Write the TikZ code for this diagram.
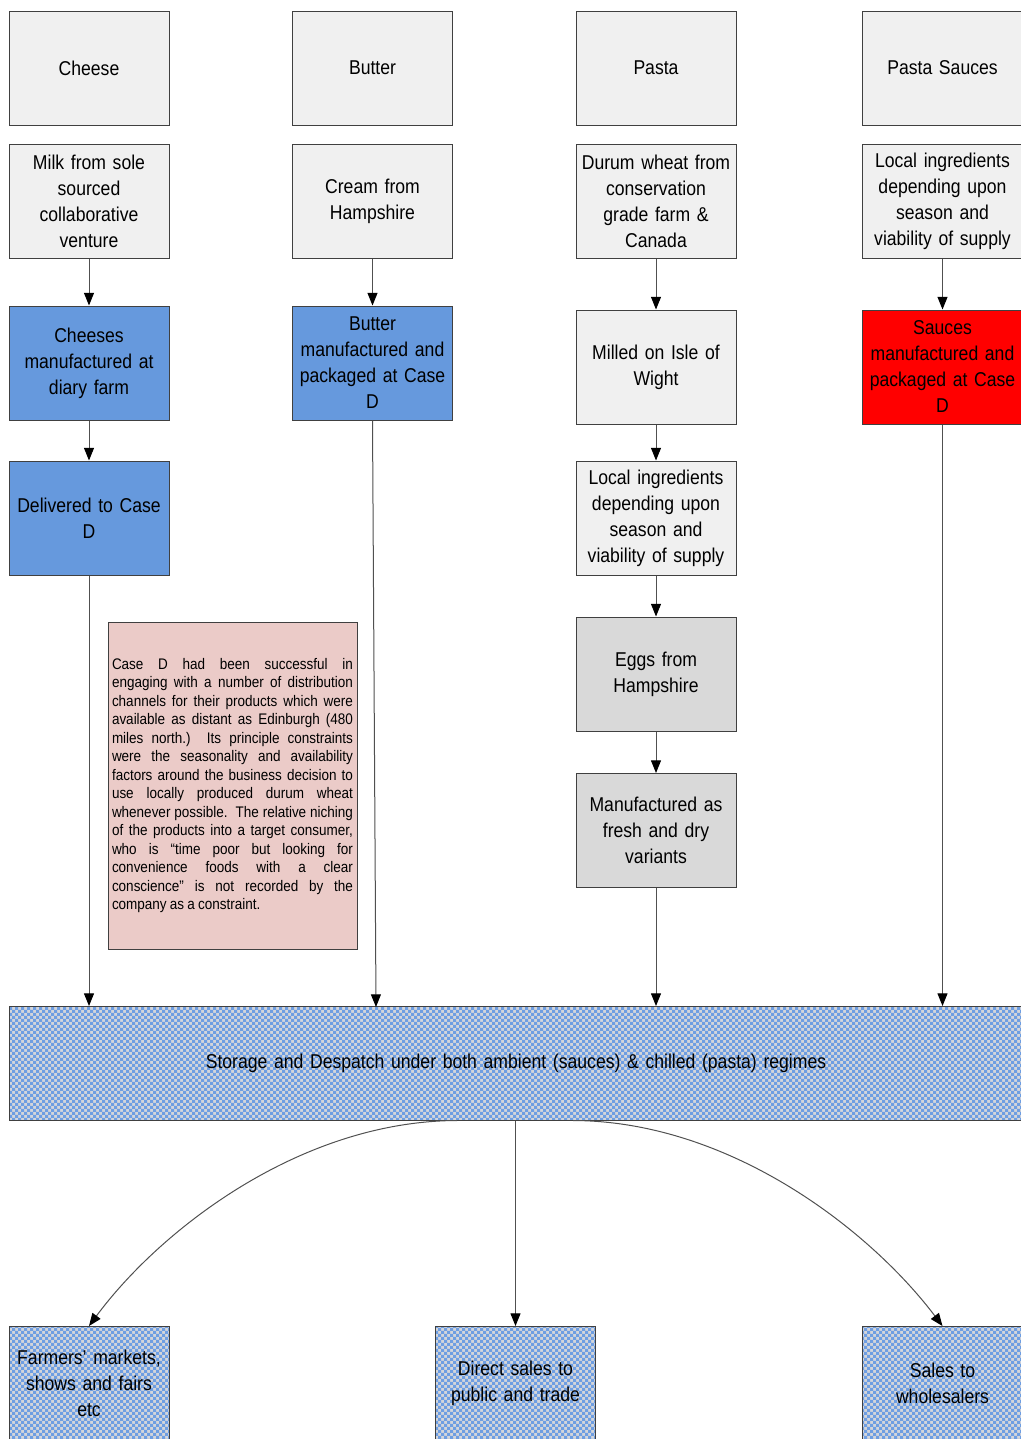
\documentclass[tikz,border=0pt]{standalone}
\usepackage{fontspec}
\setmainfont[FakeStretch=0.88,WordSpace=0.85]{Liberation Sans}
\usetikzlibrary{patterns,arrows.meta}
\definecolor{boxgrey}{HTML}{F0F0F0}
\definecolor{boxgreyd}{HTML}{D9D9D9}
\definecolor{boxblue}{HTML}{6699DD}
\definecolor{boxred}{HTML}{FF0000}
\definecolor{boxpink}{HTML}{EBCBC8}
\definecolor{chkblue}{HTML}{6E9EE2}
\definecolor{chkgrey}{HTML}{D4D6DA}
\definecolor{edgecol}{HTML}{404040}
\definecolor{conncol}{HTML}{505050}
\pgfdeclarepatternformonly{finechecks}{\pgfqpoint{-0.05pt}{-0.05pt}}{\pgfqpoint{4.55pt}{4.55pt}}{\pgfqpoint{4.5pt}{4.5pt}}{%
  \pgfpathrectangle{\pgfqpoint{0pt}{0pt}}{\pgfqpoint{2.3pt}{2.3pt}}%
  \pgfpathrectangle{\pgfqpoint{2.25pt}{2.25pt}}{\pgfqpoint{2.3pt}{2.3pt}}%
  \pgfusepath{fill}}
\tikzset{
 basebox/.style={draw=edgecol, line width=0.75pt, minimum width=120pt, minimum height=85.5pt,
   text width=118pt, align=center, inner sep=0pt, font=\fontsize{15}{19.5}\selectfont},
 greybox/.style={basebox, fill=boxgrey},
 darkbox/.style={basebox, fill=boxgreyd},
 bluebox/.style={basebox, fill=boxblue},
 redbox/.style={basebox, fill=boxred},
 chkbox/.style={basebox, preaction={fill=chkgrey}, pattern=finechecks, pattern color=chkblue},
 notebox/.style={draw=edgecol, line width=0.75pt, fill=boxpink, minimum width=186.75pt,
   minimum height=245.25pt, text width=180.75pt, align=justify, inner sep=0pt,
   font=\fontsize{11.5}{13.9}\selectfont},
 arr/.style={draw=conncol, line width=0.75pt, -{Triangle[length=9.5pt,width=7.5pt,black]}}
}
\begin{document}
\begin{tikzpicture}[x=0.75pt,y=-0.75pt]
\useasboundingbox (0,0) rectangle (1021,1439);
% row 1
\node[greybox] (cheese) at (89,68) {Cheese};
\node[greybox] (butter) at (372.5,68) {Butter};
\node[greybox] (pasta) at (656,68) {Pasta};
\node[greybox] (sauce) at (942.5,68) {Pasta Sauces};
% row 2
\node[greybox] (milk) at (89,201.5) {Milk from sole\\sourced\\collaborative\\venture};
\node[greybox] (cream) at (372.5,201.5) {Cream from\\Hampshire};
\node[greybox] (durum) at (656,201.5) {Durum wheat from\\conservation\\grade farm \&\\Canada};
\node[greybox] (local1) at (942.5,201.5) {Local ingredients\\depending upon\\season and\\viability of supply};
% column 1
\node[bluebox] (cheesem) at (89,363) {Cheeses\\manufactured at\\diary farm};
\node[bluebox] (deliv) at (89,518) {Delivered to Case\\D};
% column 2
\node[bluebox] (butterm) at (372.5,363) {Butter\\manufactured and\\packaged at Case\\D};
% column 3
\node[greybox] (milled) at (656,367) {Milled on Isle of\\Wight};
\node[greybox] (local2) at (656,518) {Local ingredients\\depending upon\\season and\\viability of supply};
\node[darkbox] (eggs) at (656,674) {Eggs from\\Hampshire};
\node[darkbox] (manuf) at (656,830.5) {Manufactured as\\fresh and dry\\variants};
% column 4
\node[redbox] (saucem) at (942.5,367) {Sauces\\manufactured and\\packaged at Case\\D};
% note
\node[notebox] (note) at (232.5,785.5) {Case D had been successful in\linebreak
engaging with a number of distribution\linebreak
channels for their products which were\linebreak
available as distant as Edinburgh (480\linebreak
miles north.)\ \ Its principle constraints\linebreak
were the seasonality and availability\linebreak
factors around the business decision to\linebreak
use locally produced durum wheat\linebreak
whenever possible.\ \ The relative niching\linebreak
of the products into a target consumer,\linebreak
who is “time poor but looking for\linebreak
convenience foods with a clear\linebreak
conscience” is not recorded by the\linebreak
company as a constraint.};
% storage
\node[chkbox, minimum width=760.5pt, text width=700pt] (store) at (516,1063.5)
  {Storage and Despatch under both ambient (sauces) \& chilled (pasta) regimes};
% outlets
\node[chkbox] (farm) at (89,1383.5) {Farmers’ markets,\\shows and fairs\\etc};
\node[chkbox] (direct) at (515.5,1383.5) {Direct sales to\\public and trade};
\node[chkbox] (whole) at (942.5,1383.5) {Sales to\\wholesalers};
% connectors
\draw[arr] (milk) -- (cheesem);
\draw[arr] (cheesem) -- (deliv);
\draw[arr] (deliv) -- (deliv.south |- store.north);
\draw[arr] (cream) -- (butterm);
\coordinate (bin) at (376,1007);
\draw[arr] (butterm.south) -- (bin);
\draw[arr] (durum) -- (milled);
\draw[arr] (milled) -- (local2);
\draw[arr] (local2) -- (eggs);
\draw[arr] (eggs) -- (manuf);
\draw[arr] (manuf) -- (manuf.south |- store.north);
\draw[arr] (local1) -- (saucem);
\draw[arr] (saucem) -- (saucem.south |- store.north);
\draw[arr] (store.south -| direct) -- (direct);
\coordinate (cl) at (457,1120.5);
\coordinate (cr) at (573,1120.5);
\draw[arr] (cl) .. controls (300,1121) and (160,1230) .. (farm.north);
\draw[arr] (cr) .. controls (730,1121) and (870,1230) .. (whole.north);
\end{tikzpicture}
\end{document}
